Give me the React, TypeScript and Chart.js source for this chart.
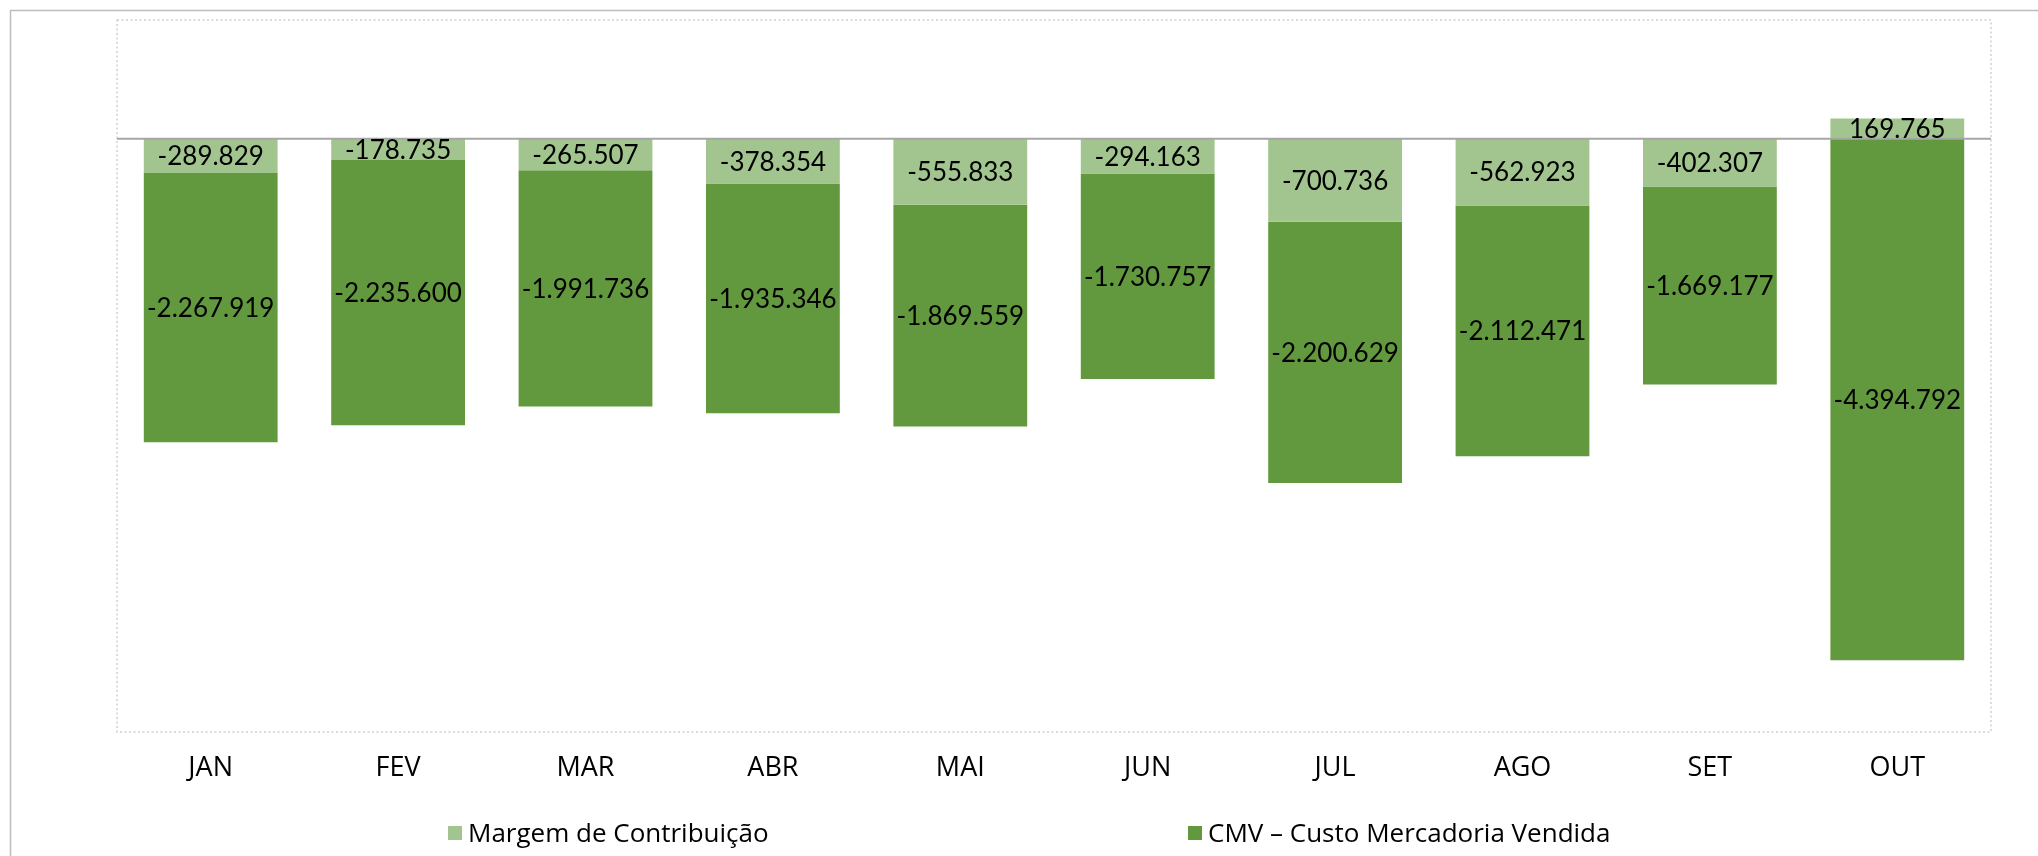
import React, { useEffect, useRef } from "react";
import { Chart, registerables } from "chart.js";

Chart.register(...registerables);

const months = ["JAN", "FEV", "MAR", "ABR", "MAI", "JUN", "JUL", "AGO", "SET", "OUT"];
const margemContribuicao = [-289829, -178735, -265507, -378354, -555833, -294163, -700736, -562923, -402307, 169765];
const cmvCusto = [-2267919, -2235600, -1991736, -1935346, -1869559, -1730757, -2200629, -2112471, -1669177, -4394792];
const seriesNames = ["Margem de Contribuição", "CMV – Custo Mercadoria Vendida"];
const seriesColors = ["#A2C58F", "#62983E"];
const yMin = -5000000;
const yMax = 1000000;

function fmt(v: number): string {
  const s = Math.abs(Math.round(v)).toString();
  const parts: string[] = [];
  for (let i = s.length; i > 0; i -= 3) parts.unshift(s.slice(Math.max(0, i - 3), i));
  return (v < 0 ? "-" : "") + parts.join(".");
}

const decorPlugin = {
  id: "decor",
  beforeDraw(chart: any) {
    const ctx = chart.ctx;
    const a = chart.chartArea;
    ctx.save();
    ctx.fillStyle = "#FFFFFF";
    ctx.fillRect(0, 0, chart.width, chart.height);
    ctx.strokeStyle = "#BDBDBD";
    ctx.lineWidth = 1.5;
    ctx.beginPath();
    ctx.moveTo(10.5, chart.height + 5);
    ctx.lineTo(10.5, 10.5);
    ctx.lineTo(chart.width + 5, 10.5);
    ctx.stroke();
    ctx.strokeStyle = "#CFCFCF";
    ctx.lineWidth = 1.5;
    ctx.setLineDash([2, 2.5]);
    ctx.strokeRect(a.left, a.top, a.right - a.left, a.bottom - a.top);
    ctx.restore();
  },
  afterDatasetsDraw(chart: any) {
    const ctx = chart.ctx;
    const a = chart.chartArea;
    const y0 = chart.scales.y.getPixelForValue(0);
    ctx.save();
    ctx.strokeStyle = "#A6A6A6";
    ctx.lineWidth = 2;
    ctx.beginPath();
    ctx.moveTo(a.left, y0);
    ctx.lineTo(a.right, y0);
    ctx.stroke();
    ctx.fillStyle = "#000000";
    ctx.font = "26px Lato";
    ctx.textAlign = "center";
    ctx.textBaseline = "middle";
    chart.data.datasets.forEach((ds: any, di: number) => {
      const meta = chart.getDatasetMeta(di);
      meta.data.forEach((bar: any, i: number) => {
        const v = ds.data[i];
        const cy = (bar.y + bar.base) / 2;
        ctx.fillText(fmt(v), bar.x, cy + 1);
      });
    });
    ctx.restore();
  },
};

export default function App() {
  const ref = useRef<HTMLCanvasElement | null>(null);

  useEffect(() => {
    if (!ref.current) return;
    const chart = new Chart(ref.current, {
      type: "bar",
      data: {
        labels: months,
        datasets: [
          {
            label: seriesNames[0],
            data: margemContribuicao,
            backgroundColor: seriesColors[0],
            stack: "s",
            categoryPercentage: 1,
            barPercentage: 0.714,
          },
          {
            label: seriesNames[1],
            data: cmvCusto,
            backgroundColor: seriesColors[1],
            stack: "s",
            categoryPercentage: 1,
            barPercentage: 0.714,
          },
        ],
      },
      options: {
        responsive: false,
        animation: false,
        devicePixelRatio: 1,
        layout: { padding: { left: 117, right: 47, top: 20, bottom: 0 } },
        plugins: {
          legend: { display: false },
          tooltip: { enabled: false },
        },
        scales: {
          x: {
            stacked: true,
            grid: { display: false },
            border: { display: false },
            ticks: {
              color: "#000000",
              font: { family: "'Open Sans'", size: 27 },
              padding: 12,
              maxRotation: 0,
            },
            afterFit: (scale: any) => {
              scale.height = 124;
            },
          },
          y: {
            stacked: true,
            display: false,
            min: yMin,
            max: yMax,
          },
        },
      },
      plugins: [decorPlugin],
    });
    return () => chart.destroy();
  }, []);

  const legendText: React.CSSProperties = {
    fontFamily: "'Open Sans'",
    fontSize: 26,
    color: "#000",
    lineHeight: "30px",
    whiteSpace: "nowrap",
  };
  const sq = (c: string): React.CSSProperties => ({
    display: "inline-block",
    width: 14,
    height: 14,
    background: c,
    marginRight: 6,
    verticalAlign: "middle",
    position: "relative",
    top: -2,
  });

  return (
    <div style={{ position: "fixed", left: 0, top: 0, width: 2038, height: 856, overflow: "hidden", background: "#fff" }}>
      <canvas ref={ref} width={2038} height={856} style={{ display: "block" }} />
      <div style={{ position: "absolute", left: 448, top: 817, ...legendText }}>
        <span style={sq(seriesColors[0])} />
        {seriesNames[0]}
      </div>
      <div style={{ position: "absolute", left: 1188, top: 817, ...legendText }}>
        <span style={sq(seriesColors[1])} />
        {seriesNames[1]}
      </div>
    </div>
  );
}
